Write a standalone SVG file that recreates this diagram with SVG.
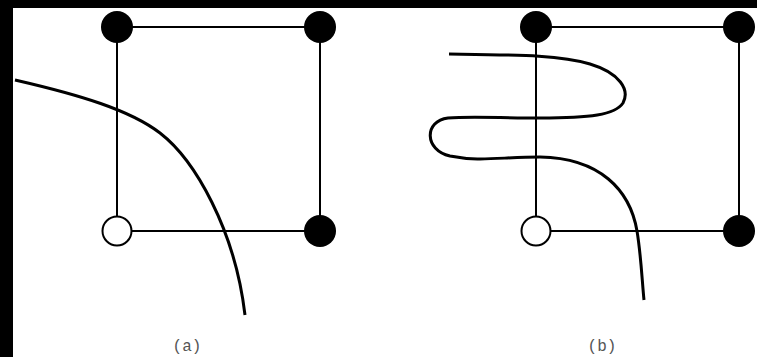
<svg xmlns="http://www.w3.org/2000/svg" width="757" height="357" viewBox="0 0 757 357">
  <style>
    .edge { stroke: #000; stroke-width: 2; fill: none; }
    .curve { stroke: #000; stroke-width: 3; fill: none; stroke-linecap: butt; }
    .full { fill: #000; }
    .empty { fill: #fff; stroke: #000; stroke-width: 2; }
    .lbl { font-family: "Liberation Mono", "DejaVu Sans Mono", monospace; font-size: 16px; fill: #555; text-anchor: middle; }
  </style>
  <rect x="0" y="0" width="757" height="357" fill="#000"/>
  <rect x="13" y="8" width="744" height="349" fill="#fff"/>

  <g id="connectors">
    <g id="edges-a">
      <line class="edge" x1="117" y1="27" x2="320" y2="27"/>
      <line class="edge" x1="117" y1="231" x2="320" y2="231"/>
      <line class="edge" x1="117" y1="27" x2="117" y2="231"/>
      <line class="edge" x1="320" y1="27" x2="320" y2="231"/>
    </g>
    <g id="edges-b">
      <line class="edge" x1="536" y1="27" x2="739" y2="27"/>
      <line class="edge" x1="536" y1="231" x2="739" y2="231"/>
      <line class="edge" x1="536" y1="27" x2="536" y2="231"/>
      <line class="edge" x1="739" y1="27" x2="739" y2="231"/>
    </g>
    <path id="curve-a" class="curve" d="M15,80 C80,95 130,110 160,133 C195,160 235,230 245,315"/>
    <path id="curve-b" class="curve" d="M449,54 C520,55 560,55 590,64 C620,73 630,90 623,103 C615,115 590,118 540,118 C500,118 470,116 448,118 C424,121 424,150 450,156 C480,162 500,157 540,157 C600,158 630,190 637,231 C641,255 642,280 644,300"/>
  </g>

  <g id="node-a-tl"><circle class="full" cx="117" cy="27" r="16"/></g>
  <g id="node-a-tr"><circle class="full" cx="320" cy="27" r="16"/></g>
  <g id="node-a-bl"><circle class="empty" cx="117" cy="231" r="14.5"/></g>
  <g id="node-a-br"><circle class="full" cx="320" cy="231" r="16"/></g>

  <g id="node-b-tl"><circle class="full" cx="536" cy="27" r="16"/></g>
  <g id="node-b-tr"><circle class="full" cx="739" cy="27" r="16"/></g>
  <g id="node-b-bl"><circle class="empty" cx="536" cy="231" r="14.5"/></g>
  <g id="node-b-br"><circle class="full" cx="739" cy="231" r="16"/></g>

  <text class="lbl" x="187" y="351">(a)</text>
  <text class="lbl" x="602" y="351">(b)</text>
</svg>
